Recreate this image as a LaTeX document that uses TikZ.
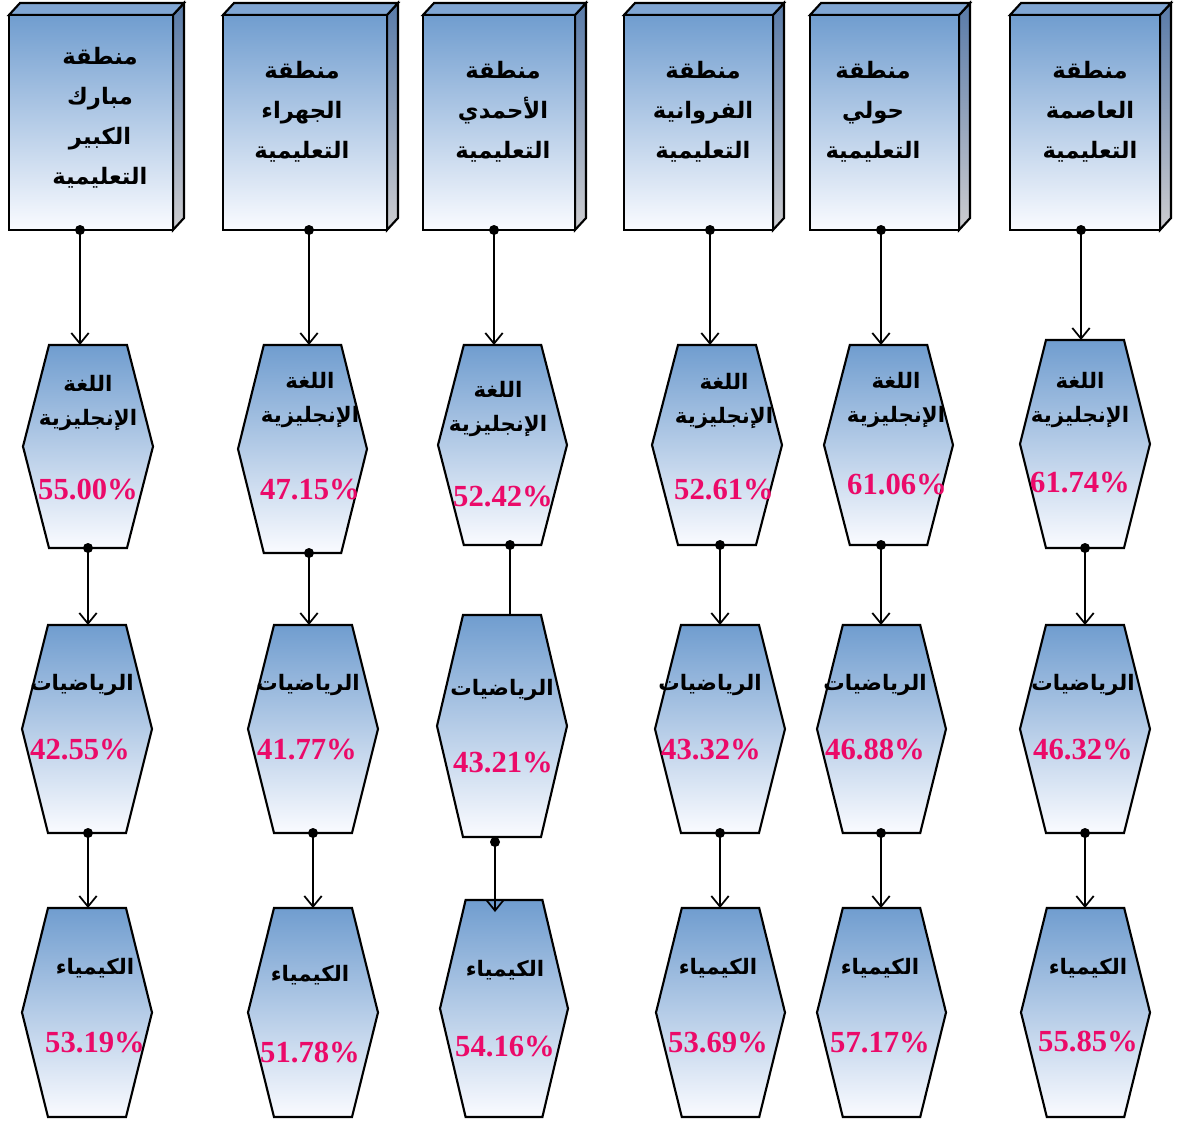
\documentclass[tikz,border=0pt]{standalone}
\usepackage{fontspec}
\setmainfont{Liberation Serif}
\newfontfamily\arabicfont[Script=Arabic]{DejaVu Sans}
\TeXXeTstate=1
\usetikzlibrary{calc,fit,arrows.meta}
\definecolor{hexblue}{RGB}{112,157,207}
\definecolor{hexmid}{RGB}{192,210,234}
\definecolor{hexwhite}{RGB}{250,251,255}
\definecolor{sideblue}{RGB}{88,122,168}
\definecolor{sidegray}{RGB}{205,205,208}
\definecolor{topblue}{RGB}{128,166,212}
\definecolor{pctred}{RGB}{235,10,105}
\newcommand\ar[1]{\beginR #1\endR}
\tikzset{
  frame/.style={inner sep=0pt, outer sep=0pt},
  hexfill/.style={draw=black, line width=1.6pt, line join=miter, top color=hexblue, middle color=hexmid, bottom color=hexwhite},
  frontfill/.style={draw=black, line width=1.6pt, top color=hexblue, middle color=hexmid, bottom color=hexwhite},
  sidefill/.style={draw=black, line width=1.6pt, line join=miter, top color=sideblue, bottom color=sidegray},
  topfill/.style={draw=black, line width=1.6pt, line join=miter, fill=topblue},
  boxtxt/.style={font=\arabicfont\bfseries\fontsize{17}{30}\selectfont, align=center, inner sep=0pt},
  labtxt/.style={font=\arabicfont\bfseries\fontsize{16}{26}\selectfont, align=center, inner sep=0pt},
  pcttxt/.style={font=\bfseries\fontsize{23}{26}\selectfont, text=pctred, inner sep=0pt},
  conn/.style={line width=1.3pt, -{Straight Barb[length=8pt,width=13pt,line width=1.3pt]}},
  plain/.style={line width=1.3pt},
  dot/.style={fill=black, draw=none}
}
\newcommand\myhex[5]{%
  \node[frame, fit={(#2,#3) (#4,#5)}] (#1) {};
  \path[hexfill] ($(#1.north west)!0.2!(#1.north east)$) -- ($(#1.north west)!0.8!(#1.north east)$) -- (#1.east) -- ($(#1.south west)!0.8!(#1.south east)$) -- ($(#1.south west)!0.2!(#1.south east)$) -- (#1.west) -- cycle;
}
\newcommand\mybox[5]{%
  \node[frame, fit={(#2,#3) (#4,#5)}] (#1) {};
  \path[sidefill] (#1.north east) -- ($(#1.north east)+(11,-12)$) -- ($(#1.south east)+(11,-12)$) -- (#1.south east) -- cycle;
  \path[topfill] (#1.north west) -- ($(#1.north west)+(11,-12)$) -- ($(#1.north east)+(11,-12)$) -- (#1.north east) -- cycle;
  \path[frontfill] (#1.north west) rectangle (#1.south east);
}
\begin{document}
\begin{tikzpicture}[x=0.75pt,y=-0.75pt]
\useasboundingbox (0,0) rectangle (1180,1120);
% top boxes
\mybox{b1}{9}{15}{173}{230}
\mybox{b2}{223}{15}{387}{230}
\mybox{b3}{423}{15}{575}{230}
\mybox{b4}{624}{15}{773}{230}
\mybox{b5}{810}{15}{959}{230}
\mybox{b6}{1010}{15}{1160}{230}
% hexagons
\myhex{h11}{23}{345}{153}{548}
\myhex{h12}{238}{345}{367}{553}
\myhex{h13}{438}{345}{567}{545}
\myhex{h14}{652}{345}{782}{545}
\myhex{h15}{824}{345}{953}{545}
\myhex{h16}{1020}{340}{1150}{548}
\myhex{h21}{22}{625}{152}{833}
\myhex{h22}{248}{625}{378}{833}
\myhex{h23}{437}{615}{567}{837}
\myhex{h24}{655}{625}{785}{833}
\myhex{h25}{817}{625}{946}{833}
\myhex{h26}{1020}{625}{1150}{833}
\myhex{h31}{22}{908}{152}{1117}
\myhex{h32}{248}{908}{378}{1117}
\myhex{h33}{440}{900}{568}{1117}
\myhex{h34}{656}{908}{785}{1117}
\myhex{h35}{817}{908}{946}{1117}
\myhex{h36}{1021}{908}{1150}{1117}
% box texts
\node[boxtxt] (tb1) at (100,118) {\ar{منطقة}\\\ar{مبارك}\\\ar{الكبير}\\\ar{التعليمية}};
\node[boxtxt] (tb2) at (302,112) {\ar{منطقة}\\\ar{الجهراء}\\\ar{التعليمية}};
\node[boxtxt] (tb3) at (503,112) {\ar{منطقة}\\\ar{الأحمدي}\\\ar{التعليمية}};
\node[boxtxt] (tb4) at (703,112) {\ar{منطقة}\\\ar{الفروانية}\\\ar{التعليمية}};
\node[boxtxt] (tb5) at (873,112) {\ar{منطقة}\\\ar{حولي}\\\ar{التعليمية}};
\node[boxtxt] (tb6) at (1090,112) {\ar{منطقة}\\\ar{العاصمة}\\\ar{التعليمية}};
% row 1 texts
\node[labtxt] (l11) at (88,403) {\ar{اللغة}\\\ar{الإنجليزية}};
\node[labtxt] (l12) at (310,400) {\ar{اللغة}\\\ar{الإنجليزية}};
\node[labtxt] (l13) at (498,409) {\ar{اللغة}\\\ar{الإنجليزية}};
\node[labtxt] (l14) at (724,401) {\ar{اللغة}\\\ar{الإنجليزية}};
\node[labtxt] (l15) at (896,400) {\ar{اللغة}\\\ar{الإنجليزية}};
\node[labtxt] (l16) at (1080,400) {\ar{اللغة}\\\ar{الإنجليزية}};
\node[pcttxt] (p11) at (88,490) {55.00\%};
\node[pcttxt] (p12) at (310,490) {47.15\%};
\node[pcttxt] (p13) at (503,497) {52.42\%};
\node[pcttxt] (p14) at (724,490) {52.61\%};
\node[pcttxt] (p15) at (897,485) {61.06\%};
\node[pcttxt] (p16) at (1080,483) {61.74\%};
% row 2 texts
\node[labtxt] (l21) at (82,685) {\ar{الرياضيات}};
\node[labtxt] (l22) at (308,685) {\ar{الرياضيات}};
\node[labtxt] (l23) at (502,690) {\ar{الرياضيات}};
\node[labtxt] (l24) at (710,685) {\ar{الرياضيات}};
\node[labtxt] (l25) at (875,685) {\ar{الرياضيات}};
\node[labtxt] (l26) at (1083,685) {\ar{الرياضيات}};
\node[pcttxt] (p21) at (80,750) {42.55\%};
\node[pcttxt] (p22) at (307,750) {41.77\%};
\node[pcttxt] (p23) at (503,763) {43.21\%};
\node[pcttxt] (p24) at (711,750) {43.32\%};
\node[pcttxt] (p25) at (875,750) {46.88\%};
\node[pcttxt] (p26) at (1083,750) {46.32\%};
% row 3 texts
\node[labtxt] (l31) at (95,968) {\ar{الكيمياء}};
\node[labtxt] (l32) at (310,975) {\ar{الكيمياء}};
\node[labtxt] (l33) at (505,970) {\ar{الكيمياء}};
\node[labtxt] (l34) at (718,968) {\ar{الكيمياء}};
\node[labtxt] (l35) at (880,968) {\ar{الكيمياء}};
\node[labtxt] (l36) at (1088,968) {\ar{الكيمياء}};
\node[pcttxt] (p31) at (95,1043) {53.19\%};
\node[pcttxt] (p32) at (310,1053) {51.78\%};
\node[pcttxt] (p33) at (505,1047) {54.16\%};
\node[pcttxt] (p34) at (718,1043) {53.69\%};
\node[pcttxt] (p35) at (880,1043) {57.17\%};
\node[pcttxt] (p36) at (1088,1042) {55.85\%};
% connectors: box -> row 1
\foreach \c/\x in {1/80,2/309,3/494,4/710,5/881,6/1081}{
  \draw[conn] (b\c.south -| \x,0) -- (h1\c.north -| \x,0);
  \fill[dot] (b\c.south -| \x,0) circle[radius=5];
}
% row 1 -> row 2
\foreach \c/\x in {1/88,2/309,4/720,5/881,6/1085}{
  \draw[conn] (h1\c.south -| \x,0) -- (h2\c.north -| \x,0);
  \fill[dot] (h1\c.south -| \x,0) circle[radius=5];
}
\draw[plain] (h13.south -| 510,0) -- (h23.north -| 510,0);
\fill[dot] (h13.south -| 510,0) circle[radius=5];
% row 2 -> row 3
\foreach \c/\x in {1/88,2/313,4/720,5/881,6/1085}{
  \draw[conn] (h2\c.south -| \x,0) -- (h3\c.north -| \x,0);
  \fill[dot] (h2\c.south -| \x,0) circle[radius=5];
}
\draw[conn] ($(h23.south -| 495,0)+(0,5)$) -- ($(h33.north -| 495,0)+(0,12)$);
\fill[dot] ($(h23.south -| 495,0)+(0,5)$) circle[radius=5];
\end{tikzpicture}
\end{document}
